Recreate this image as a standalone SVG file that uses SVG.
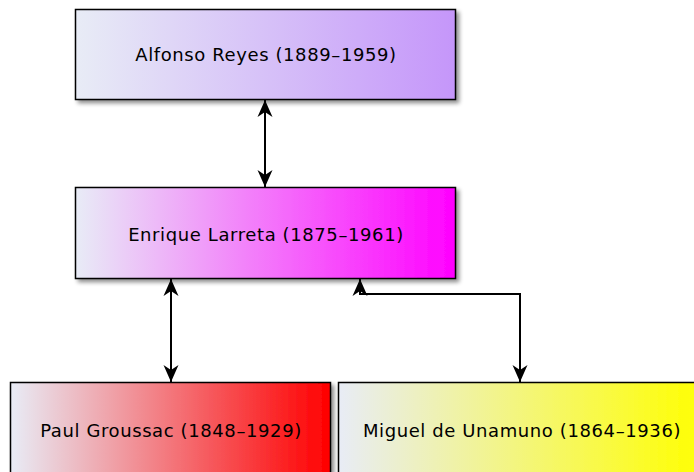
<svg xmlns="http://www.w3.org/2000/svg" width="694" height="472" viewBox="0 0 694 472">
<style>
.box{stroke:#000;stroke-width:1.5;filter:url(#sh)}
.lbl{font-family:"DejaVu Sans",sans-serif;font-size:18px;letter-spacing:0.6px;fill:#000;text-anchor:middle;dominant-baseline:central}
.edge{fill:none;stroke:#000;stroke-width:2;marker-start:url(#ah);marker-end:url(#ah)}
</style>
<defs>
<filter id="sh" x="-10%" y="-10%" width="120%" height="130%">
<feGaussianBlur in="SourceAlpha" stdDeviation="2"/>
<feOffset dx="3" dy="3" result="b"/>
<feComponentTransfer><feFuncA type="linear" slope="0.45"/></feComponentTransfer>
<feMerge><feMergeNode/><feMergeNode in="SourceGraphic"/></feMerge>
</filter>
<linearGradient id="gPurple" x1="0" y1="0" x2="1" y2="0"><stop offset="0" stop-color="#e8ecf6"/><stop offset="1" stop-color="#c596fa"/></linearGradient>
<linearGradient id="gMag" x1="0" y1="0" x2="1" y2="0"><stop offset="0" stop-color="#e8ecf6"/><stop offset="1" stop-color="#ff00ff"/></linearGradient>
<linearGradient id="gRed" x1="0" y1="0" x2="1" y2="0"><stop offset="0" stop-color="#e8ecf6"/><stop offset="1" stop-color="#ff0000"/></linearGradient>
<linearGradient id="gYel" x1="0" y1="0" x2="1" y2="0"><stop offset="0" stop-color="#e8ecf6"/><stop offset="1" stop-color="#ffff00"/></linearGradient>
<marker id="ah" viewBox="-18 -8 19 16" refX="0" refY="0" markerWidth="19" markerHeight="16" markerUnits="userSpaceOnUse" orient="auto-start-reverse">
<path d="M0,0 L-17,-7.5 L-12,0 L-17,7.5 Z" fill="#000"/>
</marker>
</defs>
<g id="connectors">
<path class="edge" d="M265,100 L265,187"/>
<path class="edge" d="M171,279 L171,382"/>
<path class="edge" d="M360,279 L360,294 L520,294 L520,382"/>
</g>
<g id="alfonso-reyes">
<rect class="box" x="75.5" y="9.5" width="380" height="90" fill="url(#gPurple)"/>
<text class="lbl" x="266" y="54.5">Alfonso Reyes (1889–1959)</text>
</g>
<g id="enrique-larreta">
<rect class="box" x="75.5" y="187.5" width="380" height="91" fill="url(#gMag)"/>
<text class="lbl" x="266" y="234">Enrique Larreta (1875–1961)</text>
</g>
<g id="paul-groussac">
<rect class="box" x="10.5" y="382.5" width="320" height="100" fill="url(#gRed)"/>
<text class="lbl" x="171" y="430">Paul Groussac (1848–1929)</text>
</g>
<g id="miguel-de-unamuno">
<rect class="box" x="338.5" y="382.5" width="366" height="100" fill="url(#gYel)"/>
<text class="lbl" x="522" y="430">Miguel de Unamuno (1864–1936)</text>
</g>
</svg>
